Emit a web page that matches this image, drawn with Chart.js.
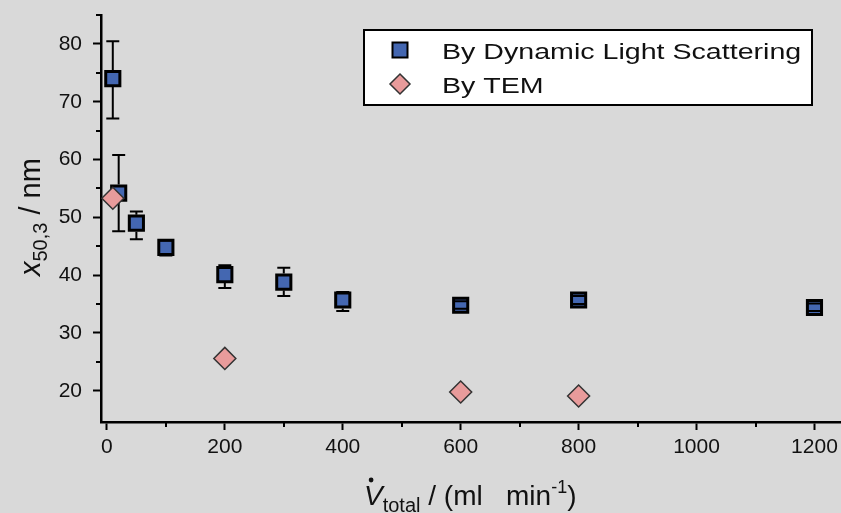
<!DOCTYPE html>
<html>
<head>
<meta charset="utf-8">
<title>x50,3 vs total flow</title>
<script src="https://cdn.jsdelivr.net/npm/chart.js@4.4.1/dist/chart.umd.min.js"></script>
<style>
    html, body { margin: 0; padding: 0; background: #d9d9d9; }
    #chartBox { width: 841px; height: 513px; }
</style>
</head>
<body>
<div id="chartBox"><canvas id="sizeChart" width="841" height="513"></canvas></div>
<script>
    // total flow (ml/min) vs particle size x50,3 (nm)
    var dlsFlow = [10, 20, 50, 100, 200, 300, 400, 600, 800, 1200];
    var dlsSize = [74.0, 54.2, 49.0, 44.8, 40.1, 38.8, 35.7, 34.8, 35.7, 34.4];
    var dlsLow  = [67.1, 47.6, 46.2, 43.4, 37.8, 36.4, 33.8, 34.2, 35.0, 33.8];
    var dlsHigh = [80.45, 60.8, 51.0, 46.0, 41.7, 41.3, 37.1, 35.5, 36.4, 35.1];

    var temFlow = [10, 200, 600, 800];
    var temSize = [53.3, 25.6, 19.8, 19.1];

    var xTicks = [0, 200, 400, 600, 800, 1000, 1200];
    var xMinorTicks = [100, 300, 500, 700, 900, 1100];
    var yTicks = [20, 30, 40, 50, 60, 70, 80];
    var yMinorTicks = [25, 35, 45, 55, 65, 75, 85];
    var legendLabels = ['By Dynamic Light Scattering', 'By TEM'];

    var FONT = "'Liberation Sans', Arial, sans-serif";

    function toPoints(xs, ys) {
        var out = [];
        for (var i = 0; i < xs.length; i++) {
            out.push({x: xs[i], y: ys[i]});
        }
        return out;
    }

    // error bars, drawn over the squares but not through them (like Origin does)
    var errorBarPlugin = {
        id: 'errorBars',
        afterDatasetDraw: function (chart, args) {
            var ds = chart.data.datasets[args.index];
            if (!ds.errLow) return;
            var ctx = chart.ctx, xs = chart.scales.x, ys = chart.scales.y;
            var half = 8.5, cap = 6.5;
            ctx.save();
            ctx.strokeStyle = '#000';
            ctx.lineWidth = 2;
            ds.data.forEach(function (p, i) {
                var px = xs.getPixelForValue(p.x);
                var py = ys.getPixelForValue(p.y);
                var top = ys.getPixelForValue(ds.errHigh[i]);
                var bot = ys.getPixelForValue(ds.errLow[i]);
                ctx.beginPath();
                if (top < py - half) { ctx.moveTo(px, top); ctx.lineTo(px, py - half); }
                if (bot > py + half) { ctx.moveTo(px, py + half); ctx.lineTo(px, bot); }
                ctx.moveTo(px - cap, top); ctx.lineTo(px + cap, top);
                ctx.moveTo(px - cap, bot); ctx.lineTo(px + cap, bot);
                ctx.stroke();
            });
            ctx.restore();
        }
    };

    var minorTickPlugin = {
        id: 'minorTicks',
        afterDraw: function (chart) {
            var ctx = chart.ctx, xs = chart.scales.x, ys = chart.scales.y, area = chart.chartArea;
            ctx.save();
            ctx.strokeStyle = '#000';
            ctx.lineWidth = 2;
            ctx.beginPath();
            yMinorTicks.forEach(function (v) {
                if (v < ys.min || v > ys.max) return;
                var py = Math.round(ys.getPixelForValue(v));
                ctx.moveTo(area.left - 5, py);
                ctx.lineTo(area.left, py);
            });
            xMinorTicks.forEach(function (v) {
                if (v < xs.min || v > xs.max) return;
                var px = Math.round(xs.getPixelForValue(v));
                ctx.moveTo(px, area.bottom);
                ctx.lineTo(px, area.bottom + 5);
            });
            ctx.stroke();
            ctx.restore();
        }
    };

    function drawRuns(ctx, runs, x, y) {
        runs.forEach(function (r) {
            ctx.font = r.font;
            r.x = x;
            r.w = ctx.measureText(r.text).width;
            ctx.fillText(r.text, x, y + (r.dy || 0));
            x += r.w;
        });
        return x;
    }

    var axisTitlePlugin = {
        id: 'axisTitles',
        afterDraw: function (chart) {
            var ctx = chart.ctx;
            ctx.save();
            ctx.fillStyle = '#111';
            ctx.textBaseline = 'alphabetic';
            ctx.textAlign = 'left';

            // x title: V-dot total / (ml min^-1)
            var xRuns = [
                {text: 'V', font: 'italic 28px ' + FONT},
                {text: 'total', font: '20px ' + FONT, dy: 7},
                {text: ' / (ml   min', font: '28px ' + FONT},
                {text: '-1', font: '18px ' + FONT, dy: -12},
                {text: ')', font: '28px ' + FONT}
            ];
            drawRuns(ctx, xRuns, 364, 505);
            ctx.beginPath();
            ctx.arc(xRuns[0].x + xRuns[0].w * 0.38, 480, 2.4, 0, Math.PI * 2);
            ctx.fill();

            // y title: x50,3 / nm
            ctx.translate(40, 276);
            ctx.rotate(-Math.PI / 2);
            drawRuns(ctx, [
                {text: 'x', font: 'italic 29px ' + FONT},
                {text: '50,3', font: '20px ' + FONT, dy: 7},
                {text: ' / nm', font: '29px ' + FONT}
            ], 0, 0);
            ctx.restore();
        }
    };

    var legendBoxPlugin = {
        id: 'legendBox',
        afterDraw: function (chart) {
            var ctx = chart.ctx;
            var box = {x: 364, y: 30, w: 448, h: 75};
            var rowY = [50, 84];
            ctx.save();
            ctx.fillStyle = '#fff';
            ctx.fillRect(box.x, box.y, box.w, box.h);
            ctx.strokeStyle = '#000';
            ctx.lineWidth = 2;
            ctx.strokeRect(box.x, box.y, box.w, box.h);

            legendLabels.forEach(function (label, i) {
                var ds = chart.data.datasets.filter(function (d) { return d.label === label; })[0];
                var mx = 400, my = rowY[i];
                ctx.fillStyle = ds.backgroundColor;
                ctx.strokeStyle = ds.borderColor;
                ctx.beginPath();
                if (ds.pointStyle === 'rect') {
                    ctx.lineWidth = 2;
                    ctx.rect(mx - 7.5, my - 7.5, 15, 15);
                } else {
                    ctx.lineWidth = 1.5;
                    ctx.moveTo(mx, my - 10);
                    ctx.lineTo(mx + 10, my);
                    ctx.lineTo(mx, my + 10);
                    ctx.lineTo(mx - 10, my);
                    ctx.closePath();
                }
                ctx.fill();
                ctx.stroke();

                ctx.save();
                ctx.fillStyle = '#111';
                ctx.font = '22px ' + FONT;
                ctx.textBaseline = 'alphabetic';
                ctx.translate(442, my + 8.5);
                ctx.scale(1.3, 1);
                ctx.fillText(label, 0, 0);
                ctx.restore();
            });
            ctx.restore();
        }
    };

    var bgPlugin = {
        id: 'bg',
        beforeDraw: function (chart) {
            var ctx = chart.ctx;
            ctx.save();
            ctx.fillStyle = '#d9d9d9';
            ctx.fillRect(0, 0, chart.width, chart.height);
            ctx.restore();
        }
    };

    var tickFont = {family: FONT, size: 21};

    function plainLabel(v) { return String(v); }

    var sizeCanvas = document.getElementById('sizeChart').getContext('2d');
    var sizeChart = new Chart(sizeCanvas, {
        type: 'scatter',
        data: {
            datasets: [{
                label: 'By Dynamic Light Scattering',
                data: toPoints(dlsFlow, dlsSize),
                errLow: dlsLow,
                errHigh: dlsHigh,
                pointStyle: 'rect',
                pointRadius: 10,
                borderWidth: 3,
                backgroundColor: '#4467b1',
                borderColor: '#000',
                order: 1
            }, {
                label: 'By TEM',
                data: toPoints(temFlow, temSize),
                pointStyle: 'rectRot',
                pointRadius: 11,
                borderWidth: 1.5,
                backgroundColor: '#e89b9b',
                borderColor: '#333',
                order: 0
            }]
        },
        options: {
            responsive: false,
            animation: false,
            events: [],
            clip: false,
            layout: {autoPadding: false, padding: {top: 15, left: 0, right: 0, bottom: 0}},
            plugins: {
                legend: {display: false},
                tooltip: {enabled: false}
            },
            scales: {
                x: {
                    type: 'linear',
                    min: -10,
                    max: 1245,
                    afterBuildTicks: function (s) {
                        s.ticks = xTicks.map(function (v) { return {value: v}; });
                    },
                    afterFit: function (s) {
                        s.height = 91;
                        s.paddingLeft = 0;
                        s.paddingRight = 0;
                    },
                    grid: {drawOnChartArea: false, drawTicks: true, tickLength: 8, tickColor: '#000', tickWidth: 2},
                    border: {display: true, color: '#000', width: 2.5},
                    ticks: {color: '#111', padding: 5, font: tickFont, maxRotation: 0, autoSkip: false, callback: plainLabel}
                },
                y: {
                    type: 'linear',
                    min: 14.6,
                    max: 85,
                    afterBuildTicks: function (s) {
                        s.ticks = yTicks.map(function (v) { return {value: v}; });
                    },
                    afterFit: function (s) {
                        s.width = 101;
                        s.paddingTop = 0;
                        s.paddingBottom = 0;
                    },
                    grid: {drawOnChartArea: false, drawTicks: true, tickLength: 8, tickColor: '#000', tickWidth: 2},
                    border: {display: true, color: '#000', width: 2.5},
                    ticks: {color: '#111', padding: 11, font: tickFont, autoSkip: false, callback: plainLabel}
                }
            }
        },
        plugins: [bgPlugin, errorBarPlugin, minorTickPlugin, axisTitlePlugin, legendBoxPlugin]
    });
</script>
</body>
</html>
